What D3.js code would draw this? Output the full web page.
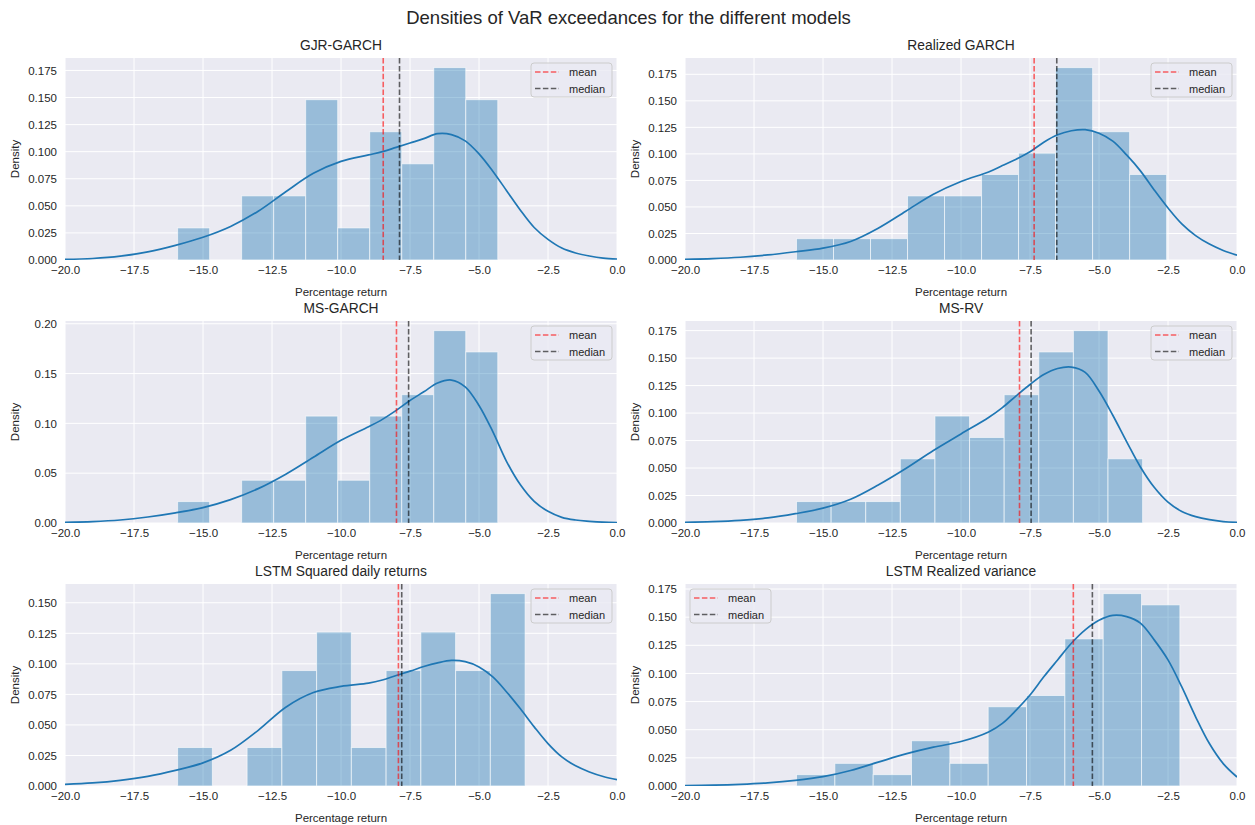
<!DOCTYPE html>
<html>
<head>
<meta charset="utf-8">
<script src="https://cdn.jsdelivr.net/npm/d3@7"></script>
<style>
  body { margin: 0; background: #fff; }
  text { font-family: "Liberation Sans", Arial, sans-serif; fill: #262626; }
</style>
</head>
<body>
<div id="chart"></div>
<script>
// ---- data ----
const titles = ["GJR-GARCH", "Realized GARCH", "MS-GARCH", "MS-RV",
  "LSTM Squared daily returns", "LSTM Realized variance"];

// histogram range (first and last bin edge), 10 bins each
const binLo = [-15.92, -15.96, -15.92, -15.96, -15.92, -15.96];
const binHi = [-4.32, -2.55, -4.32, -3.42, -3.33, -2.07];

const histGjr     = [0.0296, 0, 0.0592, 0.0592, 0.148, 0.0296, 0.1184, 0.0888, 0.1776, 0.148];
const histRgarch  = [0.0201, 0.0201, 0.0201, 0.0604, 0.0604, 0.0806, 0.1007, 0.1813, 0.1209, 0.0806];
const histMsgarch = [0.0215, 0, 0.0429, 0.0429, 0.1073, 0.0429, 0.1073, 0.1288, 0.1931, 0.1717];
const histMsrv    = [0.0195, 0.0195, 0.0195, 0.0584, 0.0973, 0.0778, 0.1167, 0.1556, 0.175, 0.0584];
const histLstmSq  = [0.0315, 0, 0.0315, 0.0945, 0.126, 0.0315, 0.0945, 0.126, 0.0945, 0.1575];
const histLstmRv  = [0.0101, 0.0201, 0.0101, 0.0402, 0.0201, 0.0704, 0.0804, 0.1307, 0.1709, 0.1609];

// kde curve sampled at kdeX
const kdeX = [-20, -19, -18, -17, -16, -15, -14, -13, -12, -11, -10, -9, -8.5, -8, -7.5,
  -7, -6.5, -6, -5.5, -5, -4.5, -4, -3.5, -3, -2.5, -2, -1.5, -1, -0.5, 0];
const kdeGjr = [0.0006, 0.0014, 0.0035, 0.0075, 0.0135, 0.021, 0.031, 0.045, 0.063, 0.080,
  0.091, 0.097, 0.100, 0.104, 0.108, 0.112, 0.1166, 0.1158, 0.110, 0.098, 0.082, 0.064,
  0.046, 0.030, 0.019, 0.011, 0.0065, 0.0037, 0.0018, 0.0009];
const kdeRgarch = [0.0006, 0.0013, 0.0026, 0.0048, 0.0078, 0.0112, 0.0175, 0.030, 0.046, 0.062,
  0.074, 0.083, 0.089, 0.095, 0.102, 0.111, 0.118, 0.1218, 0.1228, 0.1195, 0.112, 0.099,
  0.084, 0.066, 0.049, 0.034, 0.023, 0.015, 0.009, 0.0045];
const kdeMsgarch = [0.0007, 0.0014, 0.003, 0.006, 0.0102, 0.0155, 0.0235, 0.0345, 0.049, 0.066,
  0.083, 0.0967, 0.104, 0.113, 0.123, 0.1317, 0.1405, 0.1435, 0.1367, 0.118, 0.0917, 0.0617,
  0.0383, 0.0217, 0.0117, 0.0057, 0.003, 0.0017, 0.0008, 0.0005];
const kdeMsrv = [0.0006, 0.0012, 0.0024, 0.0046, 0.0085, 0.0135, 0.0216, 0.0346, 0.0496, 0.066,
  0.081, 0.096, 0.105, 0.1157, 0.126, 0.135, 0.1405, 0.1418, 0.137, 0.120, 0.098, 0.074,
  0.051, 0.0325, 0.019, 0.0105, 0.0058, 0.003, 0.0013, 0.0006];
const kdeLstmSq = [0.0014, 0.0025, 0.0046, 0.0079, 0.0128, 0.0189, 0.0292, 0.0456, 0.0645, 0.0765,
  0.0815, 0.0842, 0.0868, 0.0905, 0.094, 0.0978, 0.1008, 0.1028, 0.1018, 0.0975, 0.0893, 0.077,
  0.0632, 0.0484, 0.0347, 0.0238, 0.0165, 0.0115, 0.0078, 0.0052];
const kdeLstmRv = [0.0003, 0.0007, 0.0015, 0.0028, 0.005, 0.0083, 0.0138, 0.0212, 0.0285, 0.0345,
  0.0395, 0.048, 0.0556, 0.0674, 0.0808, 0.097, 0.112, 0.1268, 0.1387, 0.1472, 0.1516, 0.1505,
  0.1447, 0.1298, 0.112, 0.088, 0.0615, 0.0377, 0.0199, 0.008];

const means   = [-8.47, -7.35, -7.99, -7.88, -7.92, -5.93];
const medians = [-7.88, -6.53, -7.55, -7.46, -7.80, -5.24];

const xTicks = [-20, -17.5, -15, -12.5, -10, -7.5, -5, -2.5, 0];
const yTicks = [
  [0, 0.025, 0.05, 0.075, 0.1, 0.125, 0.15, 0.175],
  [0, 0.025, 0.05, 0.075, 0.1, 0.125, 0.15, 0.175],
  [0, 0.05, 0.1, 0.15, 0.2],
  [0, 0.025, 0.05, 0.075, 0.1, 0.125, 0.15, 0.175],
  [0, 0.025, 0.05, 0.075, 0.1, 0.125, 0.15],
  [0, 0.025, 0.05, 0.075, 0.1, 0.125, 0.15, 0.175]
];
const yDecimals = [3, 3, 2, 3, 3, 3];
const legendLoc = ["right", "right", "right", "right", "right", "left"];
const legendLabels = ["mean", "median"];

const hists = [histGjr, histRgarch, histMsgarch, histMsrv, histLstmSq, histLstmRv];
const kdes = [kdeGjr, kdeRgarch, kdeMsgarch, kdeMsrv, kdeLstmSq, kdeLstmRv];

// ---- layout ----
const width = 1255, height = 825;
const colX = [65, 685], rowY = [58, 321, 584];
const pw = 552, ph = 202;
const bg = "#EAEAF2", blue = "#1f77b4";
const dash = "5.5,2.4";
const tickSize = "11.5px";

const svg = d3.select("#chart")
  .append("svg")
  .attr("width", width)
  .attr("height", height);

svg.append("rect").attr("width", width).attr("height", height).attr("fill", "#fff");

svg.append("text")
  .attr("x", width / 2 + 1)
  .attr("y", 24)
  .attr("text-anchor", "middle")
  .style("font-size", "18.5px")
  .text("Densities of VaR exceedances for the different models");

function panel(i) {
  const left = colX[i % 2], top = rowY[Math.floor(i / 2)];
  const hist = hists[i], kde = kdes[i];
  const ymax = 1.05 * Math.max(d3.max(hist), d3.max(kde));

  const x = d3.scaleLinear().domain([-20, 0]).range([0, pw]);
  const y = d3.scaleLinear().domain([0, ymax]).range([ph, 0]);

  const g = svg.append("g").attr("transform", `translate(${left}, ${top})`);

  g.append("rect").attr("width", pw).attr("height", ph).attr("fill", bg);

  const clipId = "clip" + i;
  g.append("clipPath").attr("id", clipId)
    .append("rect").attr("width", pw).attr("height", ph);

  // grid
  g.selectAll(".gx").data(xTicks).enter().append("line")
    .attr("x1", d => x(d)).attr("x2", d => x(d))
    .attr("y1", 0).attr("y2", ph)
    .attr("stroke", "#fff").attr("stroke-width", 1);
  g.selectAll(".gy").data(yTicks[i]).enter().append("line")
    .attr("x1", 0).attr("x2", pw)
    .attr("y1", d => y(d)).attr("y2", d => y(d))
    .attr("stroke", "#fff").attr("stroke-width", 1);

  // histogram
  const bw = (binHi[i] - binLo[i]) / hist.length;
  g.selectAll(".bar").data(hist).enter().append("rect")
    .attr("x", (d, k) => x(binLo[i] + k * bw))
    .attr("width", x(binLo[i] + bw) - x(binLo[i]))
    .attr("y", d => y(d))
    .attr("height", d => y(0) - y(d))
    .attr("fill", blue)
    .attr("fill-opacity", 0.4)
    .attr("stroke", "#fff")
    .attr("stroke-opacity", 0.6)
    .attr("stroke-width", 1);

  // kde
  const line = d3.line()
    .x((d, k) => x(kdeX[k]))
    .y(d => y(d))
    .curve(d3.curveCatmullRom.alpha(0.5));
  g.append("path")
    .datum(kde)
    .attr("clip-path", `url(#${clipId})`)
    .attr("d", line)
    .attr("fill", "none")
    .attr("stroke", blue)
    .attr("stroke-width", 1.7);

  // mean / median
  const vColors = ["rgba(255,0,0,0.6)", "rgba(0,0,0,0.6)"];
  [means[i], medians[i]].forEach((v, k) => {
    g.append("line")
      .attr("x1", x(v)).attr("x2", x(v))
      .attr("y1", 0).attr("y2", ph)
      .attr("stroke", vColors[k])
      .attr("stroke-width", 1.6)
      .attr("stroke-dasharray", dash);
  });

  // axes
  const xAxis = g.append("g")
    .attr("transform", `translate(0, ${ph})`)
    .call(d3.axisBottom(x).tickValues(xTicks).tickSize(0).tickPadding(6).tickFormat(d3.format(".1f")));
  xAxis.select(".domain").remove();
  xAxis.selectAll("text").style("font-size", tickSize).attr("fill", "#262626");

  const yAxis = g.append("g")
    .call(d3.axisLeft(y).tickValues(yTicks[i]).tickSize(0).tickPadding(8)
      .tickFormat(d3.format(`.${yDecimals[i]}f`)));
  yAxis.select(".domain").remove();
  yAxis.selectAll("text").style("font-size", tickSize).attr("fill", "#262626");

  g.append("text")
    .attr("x", pw / 2).attr("y", ph + 36)
    .attr("text-anchor", "middle")
    .style("font-size", tickSize)
    .text("Percentage return");

  g.append("text")
    .attr("transform", `translate(${-46}, ${ph / 2}) rotate(-90)`)
    .attr("text-anchor", "middle")
    .style("font-size", tickSize)
    .text("Density");

  g.append("text")
    .attr("x", pw / 2).attr("y", -8)
    .attr("text-anchor", "middle")
    .style("font-size", "13.8px")
    .text(titles[i]);

  // legend
  const lw = 81, lh = 34;
  const lx = legendLoc[i] === "right" ? pw - lw - 5 : 5;
  const legend = g.append("g").attr("transform", `translate(${lx}, 5)`);
  legend.append("rect")
    .attr("width", lw).attr("height", lh).attr("rx", 3)
    .attr("fill", bg).attr("fill-opacity", 0.8)
    .attr("stroke", "#cccccc").attr("stroke-width", 1);

  const item = legend.selectAll(".legend-item")
    .data(legendLabels)
    .enter()
    .append("g")
    .attr("transform", (d, k) => `translate(0, ${9 + k * 16.5})`);
  item.append("line")
    .attr("x1", 4).attr("x2", 28)
    .attr("stroke", (d, k) => vColors[k])
    .attr("stroke-width", 1.6)
    .attr("stroke-dasharray", dash);
  item.append("text")
    .attr("x", 38).attr("y", 4)
    .style("font-size", "11px")
    .text(d => d);
}

for (let i = 0; i < 6; i++) panel(i);
</script>
</body>
</html>
